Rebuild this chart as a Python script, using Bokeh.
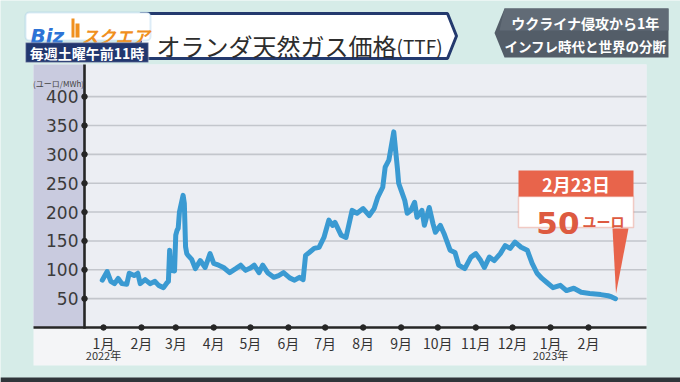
import datetime as dt
import pandas as pd
from bokeh.plotting import figure
from bokeh.models import (Range1d, FixedTicker, LinearAxis, BoxAnnotation, Label)
from bokeh.embed import file_html
from bokeh.resources import INLINE

# ---------------- data ----------------
dates = [
    "2021-12-31", "2022-01-04", "2022-01-07", "2022-01-10", "2022-01-13", "2022-01-16",
    "2022-01-20", "2022-01-22", "2022-01-26", "2022-01-29", "2022-01-31", "2022-02-04",
    "2022-02-08", "2022-02-12", "2022-02-15", "2022-02-19", "2022-02-22", "2022-02-23",
    "2022-02-24", "2022-02-25", "2022-02-28", "2022-03-01", "2022-03-02", "2022-03-03",
    "2022-03-04", "2022-03-07", "2022-03-08", "2022-03-09", "2022-03-10", "2022-03-11",
    "2022-03-14", "2022-03-17", "2022-03-21", "2022-03-25", "2022-03-29", "2022-04-01",
    "2022-04-05", "2022-04-09", "2022-04-14", "2022-04-19", "2022-04-23", "2022-04-27",
    "2022-05-01", "2022-05-04", "2022-05-08", "2022-05-11", "2022-05-15", "2022-05-20",
    "2022-05-24", "2022-05-28", "2022-06-02", "2022-06-06", "2022-06-10", "2022-06-13",
    "2022-06-15", "2022-06-18", "2022-06-22", "2022-06-26", "2022-06-30", "2022-07-04",
    "2022-07-07", "2022-07-09", "2022-07-14", "2022-07-18", "2022-07-23", "2022-07-27",
    "2022-08-01", "2022-08-06", "2022-08-10", "2022-08-13", "2022-08-17", "2022-08-19",
    "2022-08-22", "2022-08-26", "2022-08-29", "2022-08-30", "2022-09-01", "2022-09-04",
    "2022-09-06", "2022-09-09", "2022-09-12", "2022-09-14", "2022-09-18", "2022-09-20",
    "2022-09-24", "2022-09-27", "2022-09-29", "2022-10-03", "2022-10-06", "2022-10-11",
    "2022-10-15", "2022-10-18", "2022-10-23", "2022-10-28", "2022-11-01", "2022-11-05",
    "2022-11-08", "2022-11-12", "2022-11-16", "2022-11-21", "2022-11-25", "2022-11-29",
    "2022-12-03", "2022-12-08", "2022-12-13", "2022-12-17", "2022-12-21", "2022-12-25",
    "2022-12-29", "2023-01-03", "2023-01-09", "2023-01-14", "2023-01-20", "2023-01-26",
    "2023-02-02", "2023-02-11", "2023-02-17", "2023-02-20", "2023-02-23",
]
prices = [
    82, 97, 80, 76, 85, 76,
    75, 94, 90, 94, 76, 83,
    76, 80, 73, 69, 78, 80,
    134, 99, 98, 160, 168, 172,
    200, 229, 215, 140, 128, 125,
    118, 102, 116, 104, 128, 111,
    108, 104, 95, 102, 108, 99,
    103, 108, 95, 108, 95, 87,
    90, 95, 86, 82, 87, 83,
    125, 130, 137, 139, 156, 186,
    177, 182, 160, 156, 203, 198,
    206, 194, 206, 226, 243, 278,
    290, 339, 275, 250, 238, 220,
    198, 203, 217, 191, 203, 177,
    208, 180, 165, 177, 163, 134,
    130, 108, 102, 122, 128, 116,
    104, 122, 116, 128, 142, 137,
    148, 139, 134, 111, 94, 85,
    78, 69, 73, 64, 68, 61,
    59, 57, 55, 53, 50,
]
y_ticks = [50, 100, 150, 200, 250, 300, 350, 400]
month_starts = ["2022-01-01", "2022-02-01", "2022-03-01", "2022-04-01", "2022-05-01",
                "2022-06-01", "2022-07-01", "2022-08-01", "2022-09-01", "2022-10-01",
                "2022-11-01", "2022-12-01", "2023-01-01", "2023-02-01"]
month_labels = ["1月", "2月", "3月", "4月", "5月", "6月", "7月", "8月", "9月", "10月",
                "11月", "12月", "1月", "2月"]
year_starts = ["2022-01-01", "2023-01-01"]
year_labels = ["2022年", "2023年"]
unit_text = "(ユーロ/MWh)"
title_text = "オランダ天然ガス価格"
title_sub = "(TTF)"
header_lines = ["ウクライナ侵攻から1年", "インフレ時代と世界の分断"]
callout_date = "2月23日"
callout_value = "50"
callout_unit = "ユーロ"

# ---------------- layout (page pixel geometry) ----------------
W, H = 680, 382
FL, FR, FT, FB = 84, 646, 64, 327        # chart area edges in page pixels
PANEL_L, PANEL_B = 33, 365
X0 = 103                                 # pixel of 2022-01-01
PX_DAY = 485 / 396.0
PX_UNIT = 202 / 350.0
t0 = dt.datetime(2022, 1, 1)


def xd(px):   # page pixel -> datetime (for ranges / bounds only)
    return t0 + dt.timedelta(days=(px - X0) / PX_DAY)


def xms(px):
    return (xd(px) - dt.datetime(1970, 1, 1)).total_seconds() * 1000.0


def yv(py):   # page pixel -> value
    return (FB - py) / PX_UNIT


JP = "Noto Sans CJK JP"
AX = "#262626"

p = figure(width=W, height=H, x_axis_type=None, y_axis_type=None,
           x_range=Range1d(xd(0), xd(W)), y_range=Range1d(yv(H), yv(0)),
           output_backend="svg", toolbar_location=None,
           min_border=0)
p.border_fill_color = "#d6ece8"
p.background_fill_color = "#d6ece8"
p.outline_line_color = None

p.extra_x_ranges = {"px": Range1d(0, W)}
p.extra_y_ranges = {"py": Range1d(H, 0)}


def box(l, r, t, b, color, level="annotation", **kw):
    p.add_layout(BoxAnnotation(left=l, right=r, top=t, bottom=b,
                               x_range_name="px", y_range_name="py",
                               fill_color=color, fill_alpha=1.0,
                               line_color=kw.pop("line_color", None),
                               level=level, **kw))


def rect(l, r, t, b, color, **kw):
    p.quad(left=[l], right=[r], top=[t], bottom=[b], x_range_name="px",
           y_range_name="py", fill_color=color, line_color=kw.pop("line_color", None),
           **kw)


def poly(xs, ys, color, **kw):
    p.patch(xs, ys, x_range_name="px", y_range_name="py", fill_color=color,
            line_color=kw.pop("line_color", None), **kw)


def label(x, y, text, size, color, align="left", baseline="middle", style="normal",
          font=JP):
    p.add_layout(Label(x=x, y=y, text=text, x_range_name="px", y_range_name="py",
                       text_font=font, text_font_size=size, text_color=color,
                       text_align=align, text_baseline=baseline,
                       text_font_style=style))


# screen frame / panel backgrounds (glyphs, drawn first)
rect(0, W, 377, H, "#30353a")
rect(PANEL_L, FR, FT, PANEL_B, "#f4f5f7")
rect(FL, FR, FT, FB, "#eceef3")
rect(PANEL_L, FL, FT, FB, "#c9cbdf")

# grid lines (from the tick list, across the chart area)
n_y = len(y_ticks)
p.segment(x0=[xd(FL)] * n_y, x1=[xd(FR)] * n_y,
          y0=y_ticks, y1=y_ticks, line_color="#c3c6cc", line_width=1.6)

# data line
x_dates = pd.to_datetime(dates)
p.line(x_dates, prices, line_width=5, line_color="#3a9ad2",
       line_join="round", line_cap="round")

# y axis (labels)
yax = LinearAxis(ticker=FixedTicker(ticks=y_ticks), fixed_location=xms(FL),
                 bounds=(0, yv(FT)))
yax.axis_line_color = None
yax.major_tick_line_color = None
yax.major_tick_in = 0
yax.major_tick_out = 2
yax.minor_tick_in = 0
yax.minor_tick_out = 0
yax.major_label_text_font = "DejaVu Sans"
yax.major_label_text_font_size = "17px"
yax.major_label_text_color = "#3b3b3b"
yax.major_label_standoff = 4
p.add_layout(yax, "left")

# x axis (months)
m_ms = [int(pd.Timestamp(d).value // 10**6) for d in month_starts]
xax = LinearAxis(ticker=FixedTicker(ticks=m_ms), fixed_location=0,
                 bounds=(xms(PANEL_L), xms(FR)))
xax.major_label_overrides = {k: v for k, v in zip(m_ms, month_labels)}
xax.axis_line_color = None
xax.major_tick_line_color = None
xax.major_tick_in = 0
xax.major_tick_out = 2
xax.minor_tick_in = 0
xax.minor_tick_out = 0
xax.major_label_text_font = JP
xax.major_label_text_font_size = "14px"
xax.major_label_text_color = "#333333"
xax.major_label_standoff = 3
p.add_layout(xax, "below")

# x axis (years)
y_ms = [int(pd.Timestamp(d).value // 10**6) for d in year_starts]
yrax = LinearAxis(ticker=FixedTicker(ticks=y_ms), fixed_location=yv(346))
yrax.major_label_overrides = {k: v for k, v in zip(y_ms, year_labels)}
yrax.axis_line_color = None
yrax.major_tick_line_color = None
yrax.major_tick_in = 0
yrax.major_tick_out = 0
yrax.minor_tick_in = 0
yrax.minor_tick_out = 0
yrax.major_label_text_font = JP
yrax.major_label_text_font_size = "11px"
yrax.major_label_text_color = "#333333"
yrax.major_label_standoff = 0
p.add_layout(yrax, "below")

# axis rules (overlay level, drawn last) and tick dots
box(FL - 1.3, FL + 1.3, FT, FB + 1.3, AX, level="overlay")
box(PANEL_L, FR, FB - 1.3, FB + 1.3, AX, level="overlay")
m_dates = pd.to_datetime(month_starts)
p.scatter(m_dates, [0] * len(m_dates), size=5.5, marker="circle", color=AX)
p.scatter([xd(FL)] * n_y, y_ticks, size=5.5, marker="circle", color=AX)

# unit label
label(58, 83, unit_text, "8px", "#444444", align="center")

# title box
poly([140, 447, 456, 447, 140], [13, 13, 35.5, 58, 58], "#ffffff",
     line_color="#243a6e", line_width=3)
label(156, 45, title_text, "24px", "#2d2d2d", baseline="alphabetic")
label(396, 45, title_sub, "19px", "#2d2d2d", baseline="alphabetic")

# logo
box(25, 150, 12, 40, "#ffffff", line_color="#8fc0e6", line_width=2, border_radius=4)
label(30, 35, "Biz", "20px", "#2d73d6", baseline="alphabetic", style="bold italic",
      font="DejaVu Sans")
box(71, 74, 18, 37, "#f0901e")
box(75, 79, 23, 37, "#f0901e")
label(81, 35, "スクエア", "17px", "#f0901e", baseline="alphabetic", style="bold italic")
box(25, 148, 42, 62, "#22376f", line_color="#ffffff", line_width=1.5)
label(86.5, 52.5, "毎週土曜午前11時", "14px", "#ffffff", align="center", style="bold")

# header at right
poly([504, 668, 668, 504, 494], [8, 8, 57, 57, 32.5], "#535d68")
poly([504, 668, 668, 499], [8, 8, 30, 30], "#616b76")
label(585, 22, header_lines[0], "14px", "#ffffff", align="center", style="bold")
label(585, 45, header_lines[1], "13.5px", "#ffffff", align="center", style="bold")

# callout
box(518, 633, 196, 227, "#ffffff", line_color="#e4624a", line_width=1.5)
box(518, 633, 170, 196, "#e8644b")
label(575.5, 183.5, callout_date, "18px", "#ffffff", align="center", style="bold")
label(579, 222, callout_value, "31px", "#dd5a40", align="right", baseline="alphabetic",
      style="bold", font="DejaVu Sans")
label(582, 220, callout_unit, "14px", "#dd5a40", baseline="alphabetic", style="bold")
poly([612, 628, 615.5], [228, 228, 293], "#e8644b")

open("out.html", "w").write(file_html(p, INLINE))
